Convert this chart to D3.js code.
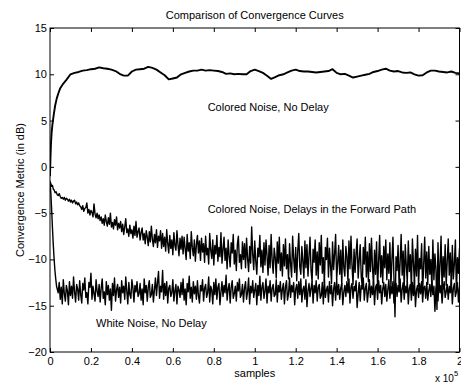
<!DOCTYPE html>
<html>
<head>
<meta charset="utf-8">
<script src="https://cdn.jsdelivr.net/npm/d3@7"></script>
<style>
  body { margin: 0; background: #fff; }
  svg text { font-family: "Liberation Sans", Arial, Helvetica, sans-serif; fill: #000; }
</style>
</head>
<body>
<div id="viz"></div>
<script>
/*##############################
#       Data   #
###############################*/
const xTicks = [0, 0.2, 0.4, 0.6, 0.8, 1, 1.2, 1.4, 1.6, 1.8, 2];
const yTicks = [-20, -15, -10, -5, 0, 5, 10, 15];

// Colored Noise, No Delay
const topHeadX = [0, 0.002, 0.005, 0.008, 0.012, 0.018, 0.025, 0.033, 0.041, 0.05, 0.065, 0.08];
const topHeadY = [-1.0, 0.8, 2.6, 3.7, 4.6, 5.6, 6.6, 7.4, 7.95, 8.5, 9.0, 9.4];
const topStart = 0.10, topStep = 0.02;
const topValues = [
  10.0, 10.15, 10.25, 10.4, 10.45, 10.55, 10.6, 10.75, 10.65, 10.6,
  10.5, 10.35, 10.05, 9.85, 9.85, 10.3, 10.5, 10.55, 10.6, 10.8,
  10.7, 10.5, 10.2, 9.9, 9.45, 9.55, 9.65, 10.0, 10.15, 10.3,
  10.4, 10.4, 10.5, 10.4, 10.45, 10.4, 10.35, 10.25, 10.05, 10.1,
  10.0, 10.05, 10.0, 10.0, 10.35, 10.5, 10.35, 10.15, 9.85, 9.5,
  9.7, 9.9, 10.0, 10.2, 10.4, 10.5, 10.35, 10.3, 10.3, 10.25,
  10.2, 10.25, 10.3, 10.35, 10.55, 10.15, 10.0, 10.05, 9.85, 9.65,
  9.75, 9.85, 9.95, 10.05, 10.25, 10.35, 10.5, 10.6, 10.4, 10.3,
  10.35, 10.2, 10.15, 10.2, 10.0, 9.85, 9.9, 10.2, 10.4, 10.4,
  10.3, 10.25, 10.2, 10.3, 10.15, 10.1
];

// Colored Noise, Delays in the Forward Path
const delayHeadX = [0, 0.004, 0.008, 0.012, 0.016, 0.02, 0.025, 0.03, 0.035, 0.04, 0.045];
const delayHeadY = [-1.6, -1.8, -2.1, -2.0, -2.4, -2.5, -2.8, -2.7, -3.0, -3.1, -2.9];
const delayStart = 0.05, delayStep = 0.005;
const delayValues = [
  -3.2,-3.4,-3.3,-3.5,-3.3,-3.6,-3.4,-3.5,-3.7,-3.5,-3.8,-3.6,-3.9,-3.7,-3.6,-4.0,-3.8,-4.1,-3.9,-4.2,
  -4.3,-4.6,-4.2,-4.8,-4.5,-4.4,-3.9,-5.0,-4.6,-5.2,-4.7,-4.9,-5.4,-4.0,-5.1,-5.5,-5.0,-5.6,-5.2,-5.8,
  -5.4,-6.1,-5.6,-6.3,-5.2,-5.9,-6.4,-5.5,-6.2,-5.0,-6.5,-6.0,-6.7,-5.7,-6.3,-5.4,-6.8,-6.1,-6.6,-5.9,
  -7.0,-6.2,-7.3,-6.5,-5.6,-7.1,-6.7,-7.5,-6.3,-7.2,-6.8,-7.7,-6.4,-7.4,-5.9,-7.6,-7.0,-6.6,-7.9,-7.1,
  -6.6,-7.9,-7.2,-8.3,-6.9,-7.6,-8.5,-7.0,-8.1,-6.4,-7.8,-8.6,-7.3,-8.2,-6.8,-8.7,-7.5,-8.0,-6.9,-8.8,
  -7.2,-8.6,-7.6,-9.1,-6.8,-8.3,-9.3,-7.4,-8.8,-7.9,-9.5,-7.1,-8.5,-9.0,-6.9,-8.4,-9.6,-7.7,-8.9,-7.5,
  -9.4,-7.6,-8.8,-10.0,-7.3,-9.1,-8.2,-9.9,-7.0,-8.7,-9.6,-7.9,-10.2,-8.4,-7.4,-9.3,-8.0,-10.1,-7.7,-9.2,
  -8.3,-10.3,-7.5,-9.5,-8.8,-10.5,-7.2,-9.0,-9.9,-7.9,-10.6,-8.5,-9.4,-7.4,-10.2,-8.7,-9.7,-7.1,-10.4,-8.9,
  -7.6,-10.1,-8.8,-11.0,-7.9,-9.6,-10.8,-8.2,-9.3,-7.3,-10.5,-9.0,-11.2,-8.4,-7.5,-10.3,-9.5,-11.0,-8.1,-10.0,
  -8.3,-10.9,-7.7,-9.9,-11.3,-8.6,-10.4,-6.5,-9.4,-11.1,-8.0,-10.2,-11.6,-8.8,-9.7,-7.4,-10.8,-9.0,-11.4,-8.2,
  -10.6,-7.9,-9.6,-11.7,-8.5,-10.9,-7.3,-10.1,-11.5,-8.8,-9.8,-12.0,-8.1,-10.4,-7.6,-11.2,-9.3,-11.8,-8.4,-10.7,
  -7.8,-11.0,-9.5,-12.1,-8.3,-10.5,-11.9,-7.5,-9.9,-11.4,-8.7,-12.3,-9.1,-7.2,-10.8,-11.6,-8.6,-10.2,-12.0,-8.0,
  -10.9,-8.4,-11.8,-9.6,-7.6,-11.2,-12.4,-8.9,-10.3,-7.9,-11.7,-9.2,-12.1,-8.2,-10.6,-7.4,-11.5,-9.8,-12.5,-8.7,
  -10.0,-7.7,-11.9,-8.8,-10.7,-12.6,-8.1,-11.1,-9.4,-7.3,-12.2,-10.4,-8.5,-11.6,-9.0,-12.8,-7.9,-10.9,-11.8,-8.6,
  -9.7,-12.3,-8.0,-11.0,-7.5,-10.6,-12.7,-8.9,-11.4,-9.3,-7.8,-12.0,-10.1,-8.4,-11.8,-13.0,-8.7,-10.5,-7.6,-11.9,
  -9.2,-12.4,-8.3,-11.3,-7.7,-10.8,-12.9,-9.0,-11.6,-8.1,-13.1,-10.2,-7.4,-11.9,-9.6,-12.5,-8.6,-10.9,-7.9,-12.2,
  -9.4,-11.5,-8.2,-13.0,-10.0,-7.6,-12.1,-16.2,-9.7,-11.2,-8.5,-12.8,-10.3,-7.3,-11.7,-9.1,-13.2,-8.4,-10.6,-12.4,
  -8.0,-11.3,-9.5,-13.3,-7.8,-10.4,-12.6,-8.9,-11.8,-7.4,-12.9,-9.9,-11.0,-8.3,-13.5,-10.6,-7.6,-12.0,-9.2,-12.7,
  -8.6,-11.6,-10.0,-13.1,-7.9,-12.2,-9.4,-11.1,-15.4,-8.2,-12.7,-10.5,-7.5,-13.4,-9.7,-11.9,-8.4,-12.8,-10.2,-7.8,
  -11.7,-9.3,-13.0,-8.5,-12.1,-10.4,-7.9,-13.6,-9.8,-11.5,-8.8
];

// White Noise, No Delay
const whiteHeadX = [0, 0.004, 0.008, 0.012, 0.016, 0.02, 0.024, 0.028, 0.032];
const whiteHeadY = [-1.5, -2.8, -4.6, -6.6, -8.4, -9.9, -11.2, -12.1, -12.9];
const whiteStart = 0.04, whiteStep = 0.005;
const whiteValues = [
  -13.6,-12.5,-14.3,-13.0,-14.8,-12.2,-13.7,-14.5,-12.8,-13.4,-14.9,-12.4,-13.9,-12.9,-14.2,-11.9,-13.5,-14.6,-12.7,-13.2,
  -14.4,-12.3,-13.8,-14.7,-12.6,-13.3,-12.0,-14.1,-13.6,-14.8,-12.5,-13.0,-11.5,-14.3,-12.9,-13.7,-14.5,-12.2,-13.4,-14.0,
  -12.7,-14.6,-13.1,-12.1,-14.2,-13.5,-14.9,-12.4,-13.8,-12.8,-14.4,-13.2,-15.5,-12.6,-13.9,-12.0,-14.5,-13.3,-12.7,-14.1,
  -13.0,-14.7,-12.3,-13.6,-12.9,-14.3,-11.9,-13.4,-14.8,-12.5,-13.8,-14.2,-12.2,-13.1,-14.6,-12.8,-13.5,-12.4,-14.0,-13.7,
  -12.6,-14.4,-13.2,-14.9,-12.1,-13.6,-12.8,-14.5,-13.0,-12.3,-14.1,-13.8,-12.7,-14.6,-13.3,-12.0,-13.9,-12.5,-11.3,-14.2,
  -12.9,-13.5,-11.2,-14.3,-12.6,-13.9,-12.4,-14.7,-13.1,-12.8,-14.0,-13.6,-12.2,-14.5,-13.4,-12.7,-14.8,-12.9,-13.3,-14.1,
  -12.5,-13.8,-12.1,-14.4,-13.2,-14.9,-12.6,-13.5,-11.8,-14.2,-13.0,-14.6,-12.4,-13.7,-12.9,-14.3,-12.3,-13.9,-14.7,-12.8,
  -13.4,-12.2,-14.5,-13.1,-12.7,-14.1,-13.6,-11.9,-14.6,-12.9,-13.3,-14.8,-12.5,-13.8,-12.1,-14.3,-13.0,-12.6,-14.9,-13.5,
  -12.4,-14.0,-12.8,-13.6,-11.7,-14.4,-13.2,-12.6,-14.7,-13.0,-12.3,-14.2,-13.7,-12.9,-14.5,-12.5,-13.4,-12.1,-14.1,-13.8,
  -12.7,-14.6,-13.1,-12.4,-14.3,-13.5,-12.0,-14.8,-12.9,-13.6,-12.3,-14.1,-13.3,-12.6,-14.9,-12.8,-13.9,-11.8,-14.4,-13.0,
  -12.5,-14.2,-13.4,-12.1,-14.7,-12.9,-13.6,-12.3,-14.5,-13.1,-12.7,-14.0,-13.8,-12.2,-14.6,-12.8,-13.5,-12.4,-14.3,-13.2,
  -12.6,-14.8,-13.0,-12.3,-14.4,-13.7,-12.0,-14.1,-12.8,-13.5,-12.5,-14.9,-13.2,-12.7,-14.2,-12.4,-13.8,-12.1,-14.6,-13.3,
  -12.9,-14.3,-12.2,-15.1,-13.4,-12.6,-14.0,-13.1,-12.4,-14.7,-12.8,-13.6,-12.3,-14.5,-13.0,-12.7,-14.2,-13.9,-12.5,-14.8,
  -12.1,-14.1,-13.3,-12.9,-14.6,-12.4,-13.7,-12.8,-15.0,-13.2,-12.5,-14.4,-12.2,-13.8,-12.7,-14.3,-13.1,-12.6,-14.9,-13.5,
  -12.8,-14.0,-12.4,-13.6,-12.1,-14.7,-13.0,-12.6,-14.2,-12.9,-13.4,-12.3,-15.2,-13.7,-12.5,-14.5,-12.8,-13.2,-12.0,-14.4,
  -13.1,-12.6,-14.6,-13.5,-12.2,-14.1,-12.9,-13.8,-12.4,-14.9,-13.0,-12.7,-14.3,-12.3,-13.6,-12.8,-14.8,-13.2,-12.5,-14.0,
  -12.7,-14.5,-13.3,-12.2,-14.2,-12.9,-13.7,-12.4,-14.7,-13.0,-12.6,-14.0,-12.8,-13.5,-12.1,-14.6,-13.2,-12.5,-14.3,-12.9,
  -13.6,-12.3,-14.8,-13.1,-12.7,-14.4,-12.5,-13.9,-12.2,-15.1,-13.3,-12.8,-14.1,-12.6,-13.7,-12.4,-14.6,-13.0,-12.9,-14.2,
  -12.5,-14.4,-13.4,-12.7,-14.0,-12.3,-13.8,-12.9,-15.6,-13.1,-12.6,-14.5,-12.2,-13.6,-12.8,-14.7,-13.2,-12.4,-14.1,-13.5,
  -12.7,-14.3,-12.9,-13.6,-12.2,-14.8,-13.1,-12.6,-14.0,-13.4,-12.5,-14.6,-13.0
];

const labels = [
  { text: "Colored Noise, No Delay", x: 0.77, y: 6.0 },
  { text: "Colored Noise, Delays in the Forward Path", x: 0.77, y: -5.0 },
  { text: "White Noise, No Delay", x: 0.225, y: -17.3 }
];

/*##############################
#       Build series           #
###############################*/
function buildSeries(headX, headY, start, step, values) {
    let pts = headX.map(function(d, i) { return [d, headY[i]]; });
    values.forEach(function(v, i) { pts.push([start + i * step, v]); });
    return pts;
}

const series = [
    { pts: buildSeries(whiteHeadX, whiteHeadY, whiteStart, whiteStep, whiteValues), w: 1.4 },
    { pts: buildSeries(delayHeadX, delayHeadY, delayStart, delayStep, delayValues), w: 1.4 },
    { pts: buildSeries(topHeadX, topHeadY, topStart, topStep, topValues), w: 1.9 }
];

/*##############################
#       Draw                   #
###############################*/
const W = 461, H = 382;
const margin = { top: 28, right: 1.5, bottom: 30, left: 50 };
const width = W - margin.left - margin.right,
      height = H - margin.top - margin.bottom;

const svg = d3.select("#viz").append("svg")
    .attr("width", W)
    .attr("height", H)
  .append("g")
    .attr("transform", "translate(" + margin.left + "," + margin.top + ")");

const x = d3.scaleLinear().domain([0, 2]).range([0, width]);
const y = d3.scaleLinear().domain([-20, 15]).range([height, 0]);

svg.append("defs").append("clipPath").attr("id", "plotClip")
  .append("rect").attr("width", width).attr("height", height);

// curves
const line = d3.line()
    .x(function(d) { return x(d[0]); })
    .y(function(d) { return y(d[1]); });

svg.append("g").attr("clip-path", "url(#plotClip)")
  .selectAll("path")
  .data(series)
  .enter()
  .append("path")
    .attr("fill", "none")
    .attr("stroke", "#000")
    .attr("stroke-width", function(d) { return d.w; })
    .attr("stroke-linejoin", "round")
    .attr("d", function(d) { return line(d.pts); });

// axes, ticks pointing inward on all four sides
const fmt = d3.format("");
function styleAxis(g) {
    g.select(".domain").remove();
    g.selectAll(".tick line").attr("stroke", "#000");
    g.selectAll(".tick text").attr("font-size", 11);
}

svg.append("g")
    .attr("transform", "translate(0," + height + ")")
    .call(d3.axisBottom(x).tickValues(xTicks).tickFormat(fmt).tickSize(-4).tickPadding(5))
    .call(styleAxis);
svg.append("g")
    .call(d3.axisTop(x).tickValues(xTicks).tickFormat("").tickSize(-4))
    .call(styleAxis);
svg.append("g")
    .call(d3.axisLeft(y).tickValues(yTicks).tickFormat(fmt).tickSize(-4).tickPadding(3))
    .call(styleAxis);
svg.append("g")
    .attr("transform", "translate(" + width + ",0)")
    .call(d3.axisRight(y).tickValues(yTicks).tickFormat("").tickSize(-4))
    .call(styleAxis);

// box
svg.append("rect")
    .attr("width", width)
    .attr("height", height)
    .attr("fill", "none")
    .attr("stroke", "#000")
    .attr("stroke-width", 1);

// title and axis labels
svg.append("text")
    .attr("x", width / 2)
    .attr("y", -9)
    .attr("text-anchor", "middle")
    .attr("font-size", 11)
    .text("Comparison of Convergence Curves");

svg.append("text")
    .attr("x", width / 2)
    .attr("y", height + 25)
    .attr("text-anchor", "middle")
    .attr("font-size", 11)
    .text("samples");

const expo = svg.append("text")
    .attr("x", width - 24.5)
    .attr("y", height + 29.5)
    .attr("font-size", 10)
    .text("x 10");
expo.append("tspan")
    .attr("dy", -6)
    .attr("font-size", 7.5)
    .text("5");

svg.append("text")
    .attr("transform", "translate(-26," + (height / 2) + ") rotate(-90)")
    .attr("text-anchor", "middle")
    .attr("font-size", 11)
    .text("Convergence Metric (in dB)");

// curve annotations
svg.selectAll(".note")
  .data(labels)
  .enter()
  .append("text")
    .attr("class", "note")
    .attr("x", function(d) { return x(d.x); })
    .attr("y", function(d) { return y(d.y); })
    .attr("font-size", 11)
    .text(function(d) { return d.text; });
</script>
</body>
</html>
